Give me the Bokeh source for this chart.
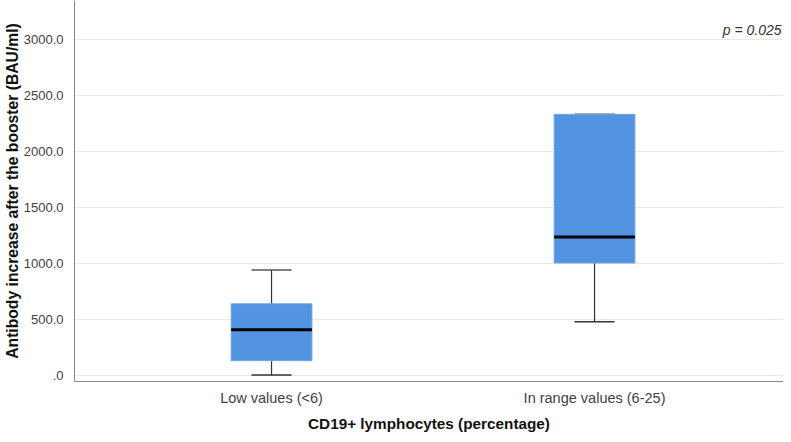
from bokeh.plotting import figure
from bokeh.models import FixedTicker, ColumnDataSource, Label
from bokeh.embed import file_html
from bokeh.resources import INLINE

categories = ["Low values (<6)", "In range values (6-25)"]
whisker_low = [5, 480]
q1 = [133, 1005]
median = [409, 1237]
q3 = [640, 2331]
whisker_high = [943, 2331]
y_ticks = [0, 500, 1000, 1500, 2000, 2500, 3000]
y_tick_labels = [".0", "500.0", "1000.0", "1500.0", "2000.0", "2500.0", "3000.0"]
p_text = "p = 0.025"

xs = [i + 1 for i in range(len(categories))]
box_w = 0.25
cap_w = 0.124

src = ColumnDataSource(dict(x=xs, lo=whisker_low, q1=q1, med=median, q3=q3, hi=whisker_high,
                            xl=[x - box_w / 2 for x in xs], xr=[x + box_w / 2 for x in xs],
                            cl=[x - cap_w / 2 for x in xs], cr=[x + cap_w / 2 for x in xs]))

p = figure(width=783, height=434, output_backend="svg", toolbar_location=None,
           x_range=(0.39, 2.585), y_range=(-53, 3347),
           min_border_top=0, min_border_right=0, min_border_left=0, min_border_bottom=0)
p.outline_line_color = None
p.background_fill_color = "white"
p.border_fill_color = "white"

p.xgrid.grid_line_color = None
p.ygrid.grid_line_color = "#efe8d5"
p.ygrid.grid_line_width = 1

p.yaxis.ticker = FixedTicker(ticks=y_ticks)
p.yaxis.major_label_overrides = {t: l for t, l in zip(y_ticks, y_tick_labels)}
p.xaxis.ticker = FixedTicker(ticks=xs)
p.xaxis.major_label_overrides = {x: c for x, c in zip(xs, categories)}

for ax in (p.xaxis[0], p.yaxis[0]):
    ax.axis_line_color = "#888888"
    ax.major_tick_line_color = None
    ax.minor_tick_line_color = None
    ax.major_label_text_font = "Liberation Sans"
    ax.major_label_text_color = "#3f3f3f"
    ax.axis_label_text_font = "Liberation Sans"
    ax.axis_label_text_font_style = "bold"
    ax.axis_label_text_color = "#111111"

p.yaxis.major_label_text_font_size = "13px"
p.xaxis.major_label_text_font_size = "14.5px"
p.yaxis.axis_label_text_font_size = "15.7px"
p.xaxis.axis_label_text_font_size = "15.3px"

p.yaxis.major_label_standoff = 5
p.xaxis.major_label_standoff = 2
p.yaxis.axis_label = "Antibody increase after the booster (BAU/ml)"
p.yaxis.axis_label_standoff = 0
p.xaxis.axis_label = "CD19+ lymphocytes (percentage)"
p.xaxis.axis_label_standoff = 6

# whiskers
p.segment(x0="x", y0="lo", x1="x", y1="q1", source=src, line_color="#333333", line_width=1.2)
p.segment(x0="x", y0="q3", x1="x", y1="hi", source=src, line_color="#333333", line_width=1.2)
p.segment(x0="cl", y0="lo", x1="cr", y1="lo", source=src, line_color="#333333", line_width=1.5)
p.segment(x0="cl", y0="hi", x1="cr", y1="hi", source=src, line_color="#555555", line_width=1.5)
# boxes
p.quad(left="xl", right="xr", bottom="q1", top="q3", source=src,
       fill_color="#5294e2", line_color="#6ea5e8", line_width=1)
# medians
p.segment(x0="xl", y0="med", x1="xr", y1="med", source=src, line_color="black", line_width=3)

p.add_layout(Label(x=2.585, y=3088, x_offset=-2, text=p_text,
                   text_font="Liberation Sans", text_font_size="14px", text_font_style="italic",
                   text_color="#333333", text_align="right", text_baseline="middle"))

open("out.html", "w").write(file_html(p, INLINE))
